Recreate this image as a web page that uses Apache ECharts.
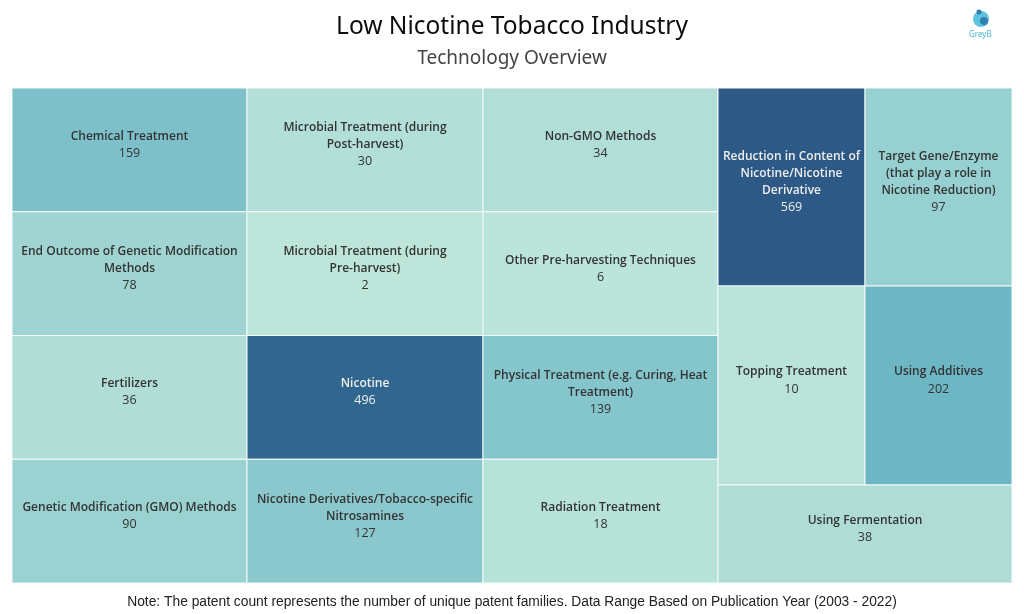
<!DOCTYPE html>
<html>
<head>
<meta charset="utf-8">
<script src="https://cdn.jsdelivr.net/npm/echarts@6/dist/echarts.min.js"></script>
<style>html,body{margin:0;padding:0;background:#fff;}#c{width:1024px;height:614px;}</style>
</head>
<body>
<div id="c"></div>
<script>
// ---- data ----
var categories = [
  'Chemical Treatment',
  'End Outcome of Genetic Modification\nMethods',
  'Fertilizers',
  'Genetic Modification (GMO) Methods',
  'Microbial Treatment (during\nPost-harvest)',
  'Microbial Treatment (during\nPre-harvest)',
  'Nicotine',
  'Nicotine Derivatives/Tobacco-specific\nNitrosamines',
  'Non-GMO Methods',
  'Other Pre-harvesting Techniques',
  'Physical Treatment (e.g. Curing, Heat\nTreatment)',
  'Radiation Treatment',
  'Reduction in Content of\nNicotine/Nicotine\nDerivative',
  'Target Gene/Enzyme\n(that play a role in\nNicotine Reduction)',
  'Topping Treatment',
  'Using Additives',
  'Using Fermentation'
];
var patentCounts = [159, 78, 36, 90, 30, 2, 496, 127, 34, 6, 139, 18, 569, 97, 10, 202, 38];
var titleText = 'Low Nicotine Tobacco Industry';
var subtitleText = 'Technology Overview';
var noteText = 'Note: The patent count represents the number of unique patent families. Data Range Based on Publication Year (2003 - 2022)';

// ---- layout (tile structure, in axis units) ----
var colEdges = [0, 235, 471, 706, 853, 1000];
var leftRows = [0, 123.75, 247.5, 371.25, 495];
var rightRows = [0, 198, 397, 495];
function tileFor(i) {
  if (i < 12) {
    var c = Math.floor(i / 4), r = i % 4;
    return [colEdges[c], leftRows[r], colEdges[c + 1], leftRows[r + 1]];
  }
  var right = [[3, 0, 4, 1], [4, 0, 5, 1], [3, 1, 4, 2], [4, 1, 5, 2], [3, 2, 5, 3]][i - 12];
  return [colEdges[right[0]], rightRows[right[1]], colEdges[right[2]], rightRows[right[3]]];
}
var seriesData = categories.map(function (name, i) {
  var t = tileFor(i);
  return { name: name, value: [t[0], t[1], t[2], t[3], patentCounts[i]] };
});

var chart = echarts.init(document.getElementById('c'));
chart.setOption({
  backgroundColor: '#ffffff',
  animation: false,
  title: [
    { text: titleText, left: 'center', top: 10, textStyle: { fontFamily: 'Noto Sans', fontSize: 24.5, fontWeight: 'normal', color: '#0d0d0d' } },
    { text: subtitleText, left: 'center', top: 44, textStyle: { fontFamily: 'Noto Sans', fontSize: 19, fontWeight: 'normal', color: '#444' } },
    { text: noteText, left: 'center', top: 590, textStyle: { fontFamily: 'Liberation Sans', fontSize: 13.8, fontWeight: 'normal', color: '#222' } }
  ],
  grid: { left: 12, right: 12, top: 88, bottom: 31 },
  xAxis: { type: 'value', min: 0, max: 1000, show: false },
  yAxis: { type: 'value', min: 0, max: 495, inverse: true, show: false },
  visualMap: {
    show: false, type: 'continuous', dimension: 4, min: 2, max: 569, seriesIndex: 0,
    inRange: { color: ['#bde5da', '#a7d9d4', '#8fcbcf', '#78bdc8', '#64afc1', '#56a1b8', '#4990ae', '#3e80a2', '#356f96', '#30638c', '#2c5985'] }
  },
  series: [{
    type: 'custom',
    coordinateSystem: 'cartesian2d',
    data: seriesData,
    encode: { x: [0, 2], y: [1, 3] },
    renderItem: function (params, api) {
      var p0 = api.coord([api.value(0), api.value(1)]);
      var p1 = api.coord([api.value(2), api.value(3)]);
      var v = api.value(4);
      var name = categories[params.dataIndex];
      var dark = v > 300;
      var txt = name.split('\n').map(function (l) { return '{n|' + l + '}'; }).join('\n') + '\n{v|' + v + '}';
      return {
        type: 'rect',
        shape: { x: p0[0], y: p0[1], width: p1[0] - p0[0], height: p1[1] - p0[1] },
        style: { fill: api.visual('color'), stroke: '#f4fbf9', lineWidth: 1 },
        textContent: {
          style: {
            text: txt, align: 'center', verticalAlign: 'middle',
            rich: {
              n: { fontFamily: 'Open Sans', fontSize: 12, fontWeight: 600, lineHeight: 17, color: dark ? '#eef3f8' : '#2b2b2b' },
              v: { fontFamily: 'Open Sans', fontSize: 12.5, fontWeight: 'normal', lineHeight: 17, color: dark ? '#c6d6e4' : '#5a5a5a' }
            }
          }
        },
        textConfig: { position: 'inside', offset: [0, -5] }
      };
    }
  }],
  graphic: [
    { type: 'circle', shape: { cx: 981, cy: 19, r: 8 }, style: { fill: '#5ec3de' } },
    { type: 'circle', shape: { cx: 984, cy: 21, r: 4 }, style: { fill: '#2f7fb0' } },
    { type: 'circle', shape: { cx: 979, cy: 12, r: 2.5 }, style: { fill: '#2f7fb0' } },
    { type: 'text', left: 969, top: 31, style: { text: 'GreyB', fontFamily: 'Noto Sans', fontSize: 8, fill: '#49b6d6' } }
  ]
});
</script>
</body>
</html>
